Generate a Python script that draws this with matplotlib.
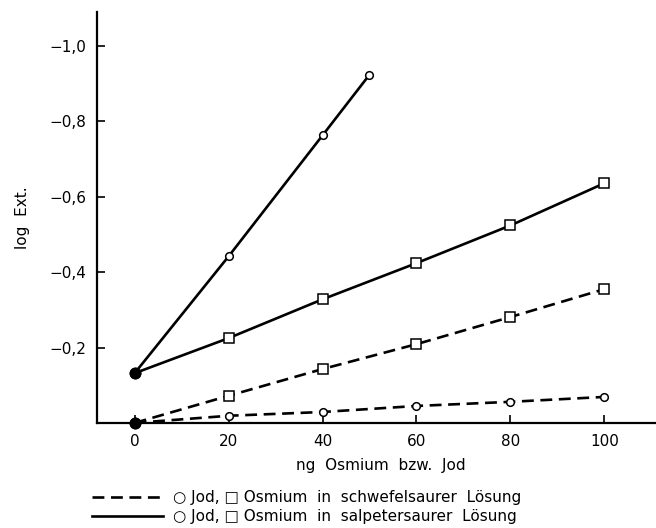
import matplotlib.pyplot as plt
from matplotlib.lines import Line2D
from matplotlib.ticker import FuncFormatter

# log Ext. (negative values, axis shown inverted like the original)
x_schwefel = [0, 20, 40, 60, 80, 100]
jod_schwefel = [0.0, -0.019, -0.029, -0.045, -0.056, -0.069]
osm_schwefel = [0.0, -0.072, -0.143, -0.209, -0.281, -0.355]

x_jod_salp = [0, 20, 40, 50]
jod_salp = [-0.132, -0.442, -0.763, -0.924]
x_osm_salp = [0, 20, 40, 60, 80, 100]
osm_salp = [-0.132, -0.225, -0.328, -0.424, -0.524, -0.636]

xticks = [0, 20, 40, 60, 80, 100]
yticks = [-0.2, -0.4, -0.6, -0.8, -1.0]

plt.rcParams['font.family'] = ['DejaVu Sans']
fig = plt.figure(figsize=(6.56, 5.28), dpi=100)
ax = fig.add_axes([0.148, 0.199, 0.852, 0.778])

lw = 1.9
dash = (0, (4.5, 2.5))

def series(x, y, ls, marker, ms):
    ax.plot(x, y, color='black', lw=lw, linestyle=ls, zorder=2, clip_on=False)
    ax.plot(x[1:], y[1:], linestyle='none', marker=marker, ms=ms, mfc='white',
            mec='black', mew=1.1, zorder=3, clip_on=False)
    ax.plot(x[:1], y[:1], linestyle='none', marker='o', ms=7.5, color='black',
            zorder=4, clip_on=False)

series(x_schwefel, jod_schwefel, dash, 'o', 5.5)
series(x_schwefel, osm_schwefel, dash, 's', 7)
series(x_jod_salp, jod_salp, '-', 'o', 5.5)
series(x_osm_salp, osm_salp, '-', 's', 7)

ax.set_xlim(-8, 111)
ax.set_ylim(0, -1.09)
ax.set_xticks(xticks)
ax.set_yticks(yticks)
ax.yaxis.set_major_formatter(FuncFormatter(lambda v, p: f"{v:.1f}".replace('.', ',').replace('-', '\u2212')))
for s in ['top', 'right']:
    ax.spines[s].set_visible(False)
for s in ['left', 'bottom']:
    ax.spines[s].set_linewidth(1.6)
ax.tick_params(direction='in', length=6, width=1.2, labelsize=11, pad=8)

ax.set_ylabel('log  Ext.', fontsize=11, labelpad=14)
ax.set_xlabel('ng  Osmium  bzw.  Jod', fontsize=11)
ax.xaxis.set_label_coords(0.507, -0.085)

handles = [Line2D([], [], color='black', lw=lw, linestyle=dash),
           Line2D([], [], color='black', lw=lw)]
labels = ['\u25cb Jod, \u25a1 Osmium  in  schwefelsaurer  Lösung',
          '\u25cb Jod, \u25a1 Osmium  in  salpetersaurer  Lösung']
fig.legend(handles, labels, loc='lower left', bbox_to_anchor=(0.12, -0.019),
           frameon=False, fontsize=11, handlelength=4.6, handletextpad=0.7,
           labelspacing=0.25)

fig.savefig('out.png', dpi=100)
